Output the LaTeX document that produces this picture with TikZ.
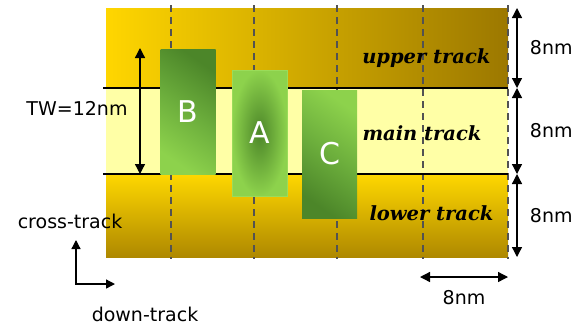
\documentclass[tikz,border=0pt]{standalone}
\usepackage{fontspec}
\setmainfont{DejaVu Sans}
\newfontfamily\TrackFont{DejaVu Serif}
\usetikzlibrary{arrows.meta,positioning}
\definecolor{UpperLeft}{HTML}{FFD600}
\definecolor{UpperRight}{HTML}{9C7800}
\definecolor{MainFill}{HTML}{FFFFA6}
\definecolor{LowerTop}{HTML}{FFD800}
\definecolor{LowerBottom}{HTML}{AE8800}
\definecolor{GridDash}{gray}{0.32}
\definecolor{BitDark}{HTML}{4C8629}
\definecolor{BitMid}{HTML}{6CAE3C}
\definecolor{BitLight}{HTML}{8DD24C}
\definecolor{BitEdge}{HTML}{9ADC5A}

\begin{document}
\begin{tikzpicture}[
  x=1pt,y=-1pt,
  font=\fontsize{19}{22}\selectfont,
  >={Triangle[length=10pt,width=10pt]},
  track/.style={anchor=north west,inner sep=0pt,outer sep=0pt,minimum width=402pt},
  bit/.style={inner sep=0pt,outer sep=0pt,minimum width=55pt,text=white,
              font=\fontsize{30}{32}\selectfont},
  tracklabel/.style={anchor=base east,font=\TrackFont\bfseries\itshape\fontsize{19.5}{22}\selectfont},
  gridline/.style={GridDash,line width=1.2pt,dash pattern=on 7pt off 5pt},
  dim/.style={<->,line width=1.3pt},
]
  \useasboundingbox (0,0) rectangle (577,325);

  % the three tracks
  \node[track,minimum height=80pt,left color=UpperLeft,right color=UpperRight] (upper) at (106,8) {};
  \node[track,minimum height=86pt,fill=MainFill] (main) at (upper.south west) {};
  \node[track,minimum height=83pt,top color=LowerTop,bottom color=LowerBottom] (lower) at (main.south west) {};

  \foreach \x [count=\i] in {171,254,337,423,508}
    \draw[gridline] (\x,5) coordinate (grid\i) -- (\x,259);
  \draw[line width=1.5pt] ([xshift=-3pt]main.north west) -- (main.north east);
  \draw[line width=1.5pt] ([xshift=-3pt]main.south west) -- (main.south east);

  % bits
  \node[bit,minimum height=125pt,top color=BitDark,bottom color=BitLight,middle color=BitMid,shading angle=-35] (B) at (188,112) {B};
  \node[bit,minimum height=126pt,inner color=BitDark,outer color=BitLight,draw=BitEdge,line width=1pt] (A) at (259.5,133) {A};
  \node[bit,minimum height=128pt,top color=BitLight,bottom color=BitDark,middle color=BitMid,shading angle=-35] (C) at (329.5,154) {C};

  \node[tracklabel] (upperlabel) at (494,63) {upper track};
  \node[tracklabel] (mainlabel) at (485,140) {main track};
  \node[tracklabel] (lowerlabel) at (497,220) {lower track};

  % dimensions
  \draw[dim] ([xshift=9pt]upper.north east) -- ([xshift=9pt]upper.south east)
    node[midway,right=9pt] (upperdim) {8nm};
  \draw[dim] ([xshift=9pt]main.north east) -- ([xshift=9pt]main.south east)
    node[midway,right=9pt] (maindim) {8nm};
  \draw[dim] ([xshift=9pt]lower.north east) -- ([xshift=9pt]lower.south east)
    node[midway,right=9pt] (lowerdim) {8nm};

  \coordinate (twtop) at (140,48);
  \draw[dim] (twtop) -- (twtop |- main.south);
  \node (tw) at (77,108) {TW=12nm};

  \coordinate (spanleft) at (420,277);
  \draw[dim] (spanleft) -- (spanleft -| lower.east)
    node[midway,below=9pt] (spandim) {8nm};

  % axes
  \coordinate (crossend) at (76,240);
  \coordinate (downend) at (115,284);
  \draw[dim,>={Triangle[length=9pt,width=9pt]}] (crossend) |- (downend);
  \node (crosslabel) at (70,221) {cross-track};
  \node[inner sep=1pt] (downlabel) at (145,314) {down-track};
\end{tikzpicture}
\end{document}
